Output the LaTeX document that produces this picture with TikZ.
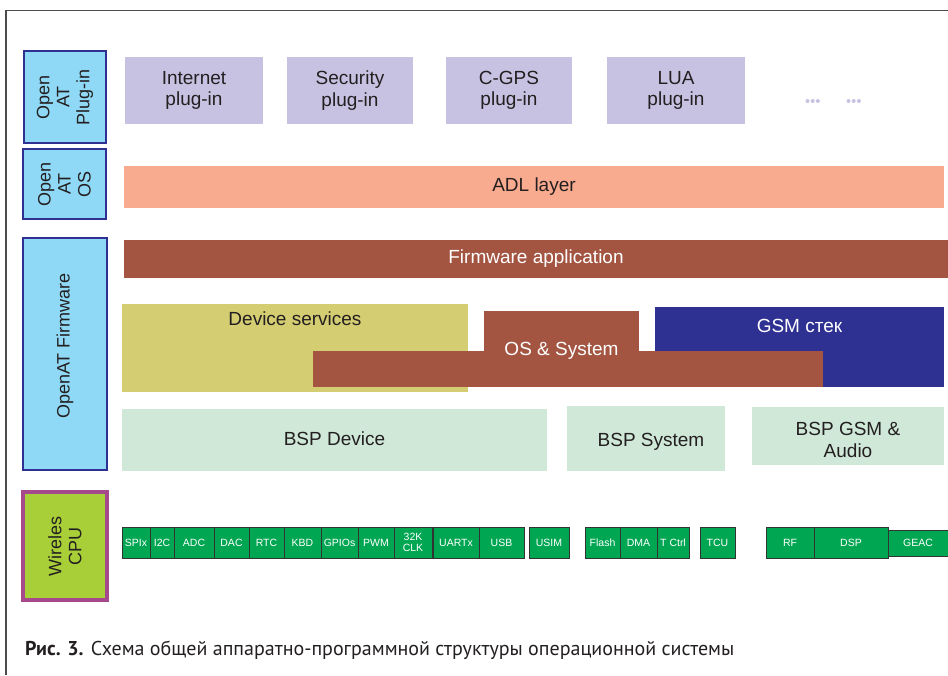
\documentclass[tikz,border=0pt]{standalone}
\usepackage{fontspec}
\setmainfont{Liberation Sans}
\newfontfamily\capfont{PT Sans}
\usetikzlibrary{positioning}

\definecolor{plugcol}{HTML}{C8C2E2}
\definecolor{adlcol}{HTML}{F9AB8F}
\definecolor{firmcol}{HTML}{A35542}
\definecolor{devcol}{HTML}{D5CD72}
\definecolor{gsmcol}{HTML}{2E3192}
\definecolor{bspcol}{HTML}{CFE8D8}
\definecolor{sidecol}{HTML}{8FD9F6}
\definecolor{cpucol}{HTML}{A8CF38}
\definecolor{cpuedge}{HTML}{A5488C}
\definecolor{chipcol}{HTML}{00A651}
\definecolor{inkcol}{HTML}{231F20}

\begin{document}
\begin{tikzpicture}[x=1pt,y=-1pt]
\tikzstyle{box}=[inner sep=0, outer sep=0, align=center, text=inkcol, font=\fontsize{19}{21.5}\selectfont]
\tikzstyle{side}=[box, rotate=90, draw=gsmcol, line width=2.5pt, fill=sidecol, font=\fontsize{18}{20}\selectfont]
\tikzstyle{chip}=[inner sep=0, outer sep=0, align=center, draw=black!80, line width=0.8pt, fill=chipcol, text=white, font=\fontsize{10.5}{11.5}\selectfont]

\useasboundingbox (0,0) rectangle (948,675);
\draw[black!70, line width=1.5pt] (948,10.5) -- (6,10.5) -- (6,675);

% Side labels
\node at (65,97) [side, minimum width=92, minimum height=82] (side_plug) {Open\\AT\\Plug-in};
\node at (64.5,184) [side, minimum width=70, minimum height=83] (side_os) {Open\\AT\\OS};
\node at (65,354) [side, minimum width=232, minimum height=84] (side_fw) {};
\node at (65,346) [box, rotate=90, font=\fontsize{18}{20}\selectfont] (side_fw_txt) {OpenAT Firmware};
\node at (65,546) [side, draw=cpuedge, line width=4.5pt, fill=cpucol, minimum width=108, minimum height=84] (side_cpu) {Wireles\\CPU};

% Plug-ins
\node at (194,90.5) [box, fill=plugcol, minimum width=138, minimum height=67] (plug_net) {Internet\\plug-in};
\node at (350,90.5) [box, fill=plugcol, minimum width=126, minimum height=67] (plug_sec) {Security\\plug-in};
\node at (509,90.5) [box, fill=plugcol, minimum width=126, minimum height=67] (plug_gps) {C-GPS\\plug-in};
\node at (676,90.5) [box, fill=plugcol, minimum width=138, minimum height=67] (plug_lua) {LUA\\plug-in};
\foreach \x in {0,1,2}
\fill[plugcol] (807.5+\x*5.2,101) circle (2);
\foreach \x in {0,1,2}
\fill[plugcol] (848.5+\x*5.2,101) circle (2);

% Layers
\node at (534,187) [box, fill=adlcol, minimum width=820, minimum height=42] (adl) {ADL layer};
\node at (536,258.5) [box, fill=firmcol, text=white, minimum width=824, minimum height=38] (firm) {Firmware application};

% Services
\node at (295,348) [box, fill=devcol, minimum width=346, minimum height=88] (dev) {};
\node [box, below=8pt of dev.north] (dev_txt) {Device services};
\node at (799.5,347) [box, fill=gsmcol, minimum width=289, minimum height=80] (gsm) {};
\node [box, text=white, below=12pt of gsm.north] (gsm_txt) {GSM стек};
\node at (561.5,331) [box, fill=firmcol, minimum width=155, minimum height=40] (os_up) {};
\node at (568,369) [box, fill=firmcol, minimum width=510, minimum height=36] (os_low) {};
\node at (561.5,351) [box, text=white] (os_txt) {OS \& System};

% BSP
\node at (334.5,440) [box, fill=bspcol, minimum width=425, minimum height=62] (bsp_dev) {};
\node at (334.5,439) [box] (bsp_dev_txt) {BSP Device};
\node at (646,438.5) [box, fill=bspcol, minimum width=158, minimum height=65] (bsp_sys) {};
\node at (651,442) [box] (bsp_sys_txt) {BSP System};
\node at (848,436) [box, fill=bspcol, minimum width=192, minimum height=58] (bsp_gsm) {};
\node at (848,440) [box] (bsp_gsm_txt) {BSP GSM \&\\Audio};

% CPU blocks
\foreach \xa/\xb/\txt/\nm in {122/150/SPIx/spix, 150/174/I2C/itc, 174/214/ADC/adc, 214/249/DAC/dac,
  249/284/RTC/rtc, 284/321/KBD/kbd, 321/358/GPIOs/gpio, 358/394/PWM/pwm, 394/432/{32K\\CLK}/clk,
  433/479/UARTx/uart, 479/524/USB/usb, 529/569/USIM/usim, 585/620/Flash/flash, 620/657/DMA/dma,
  657/689/T Ctrl/tctrl, 700/735/TCU/tcu, 766/814/RF/rf, 814/888/DSP/dsp}
\node at ({(\xa+\xb)/2},542.5) [chip, minimum width={\xb-\xa}, minimum height=31] (\nm) {\txt};
\node at (918,543) [chip, minimum width=60, minimum height=26] (geac) {GEAC};

% Caption
\node at (25,655) [anchor=base west, inner sep=0, text=inkcol] (caption) {\capfont\fontsize{20}{23}\selectfont\textbf{Рис. 3.} Схема общей аппаратно-программной структуры операционной системы};
\end{tikzpicture}
\end{document}
